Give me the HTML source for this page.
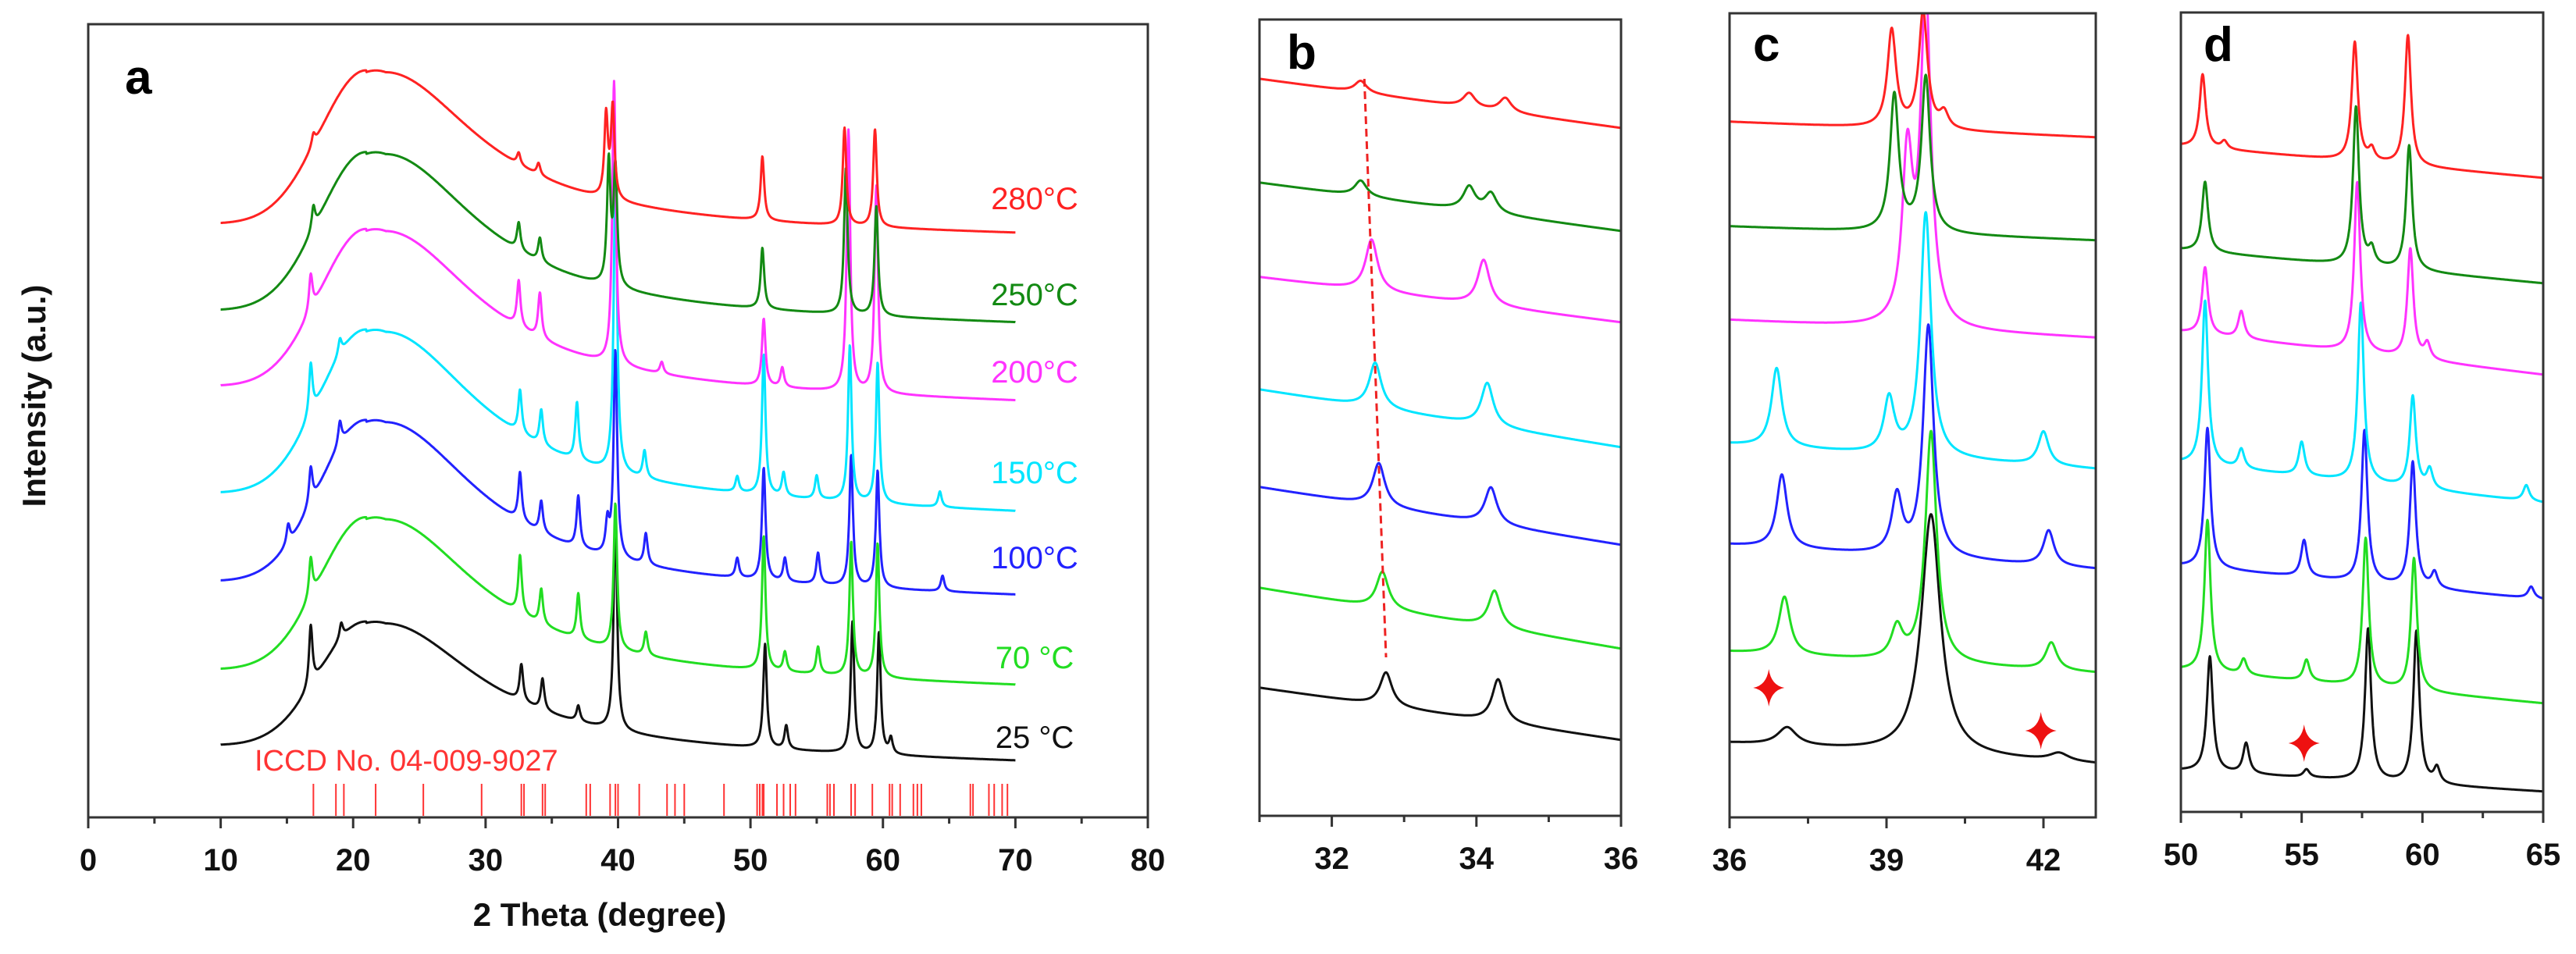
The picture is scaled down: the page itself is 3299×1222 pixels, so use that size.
<!DOCTYPE html>
<html><head><meta charset="utf-8"><style>
html,body{margin:0;padding:0;background:#fff;}
svg{display:block;font-family:"Liberation Sans",sans-serif;}
</style></head><body>
<svg id="fig" width="3299" height="1222" viewBox="0 0 3299 1222" xmlns="http://www.w3.org/2000/svg">
<defs>
<clipPath id="clipA"><rect x="113" y="31" width="1357" height="1016"/></clipPath>
<clipPath id="clipB"><rect x="1613" y="25" width="463" height="1020"/></clipPath>
<clipPath id="clipC"><rect x="2215" y="17" width="469" height="1030"/></clipPath>
<clipPath id="clipD"><rect x="2793" y="16" width="464" height="1024"/></clipPath>
</defs>
<g id="layer"></g>
</svg>
<script>
// series order: 25C, 70C, 100C, 150C, 200C, 250C, 280C
const seriesLabels = ["25 °C","70 °C","100°C","150°C","200°C","250°C","280°C"];
const seriesColors = ["#111111","#22dd22","#2222ff","#00e5ff","#ff33ff","#138a13","#ff2222"];
// panel a (10-70 deg) offsets and hump
const aBaseStart = [955,858,745,632,495,398,287];
const aBaseEnd = [979,883,768,661,519,419,304];
const aHump = [163,200,211,215,206,207,200];
const aPeaks = [
 [[16.8,78],[19.1,20],[32.7,47],[34.3,40],[37,20],[39.8,273],[51.1,133],[52.7,30],[57.7,168],[59.7,156],[60.6,20]],
 [[16.8,50],[32.6,74],[34.2,45],[37,58],[39.8,187],[42.1,30],[51,172],[52.6,25],[55.1,35],[57.6,172],[59.6,172]],
 [[15.1,25],[16.8,47],[19,30],[32.6,62],[34.2,40],[37,66],[39.2,40],[39.8,265],[42.1,40],[49,25],[51,144],[52.6,30],[55.1,40],[57.6,168],[59.6,150],[64.5,20]],
 [[16.8,66],[19,20],[32.6,55],[34.2,45],[36.9,74],[39.8,374],[42,35],[49,20],[51,180],[52.5,30],[55,30],[57.5,200],[59.6,180],[64.3,20]],
 [[16.8,47],[32.5,59],[34.1,58],[39.7,363],[43.3,15],[51,86],[52.4,25],[57.4,335],[59.5,265]],
 [[17,30],[32.5,35],[34.1,30],[39.3,156],[39.8,150],[50.9,78],[57.2,187],[59.5,140]],
 [[17,15],[32.5,15],[34,15],[39.1,105],[39.6,117],[50.9,82],[57.1,125],[59.4,125]]
];
const iccdLines = [17,18.7,19.3,21.7,25.3,29.7,32.7,32.9,34.3,34.5,37.6,37.9,39.4,39.8,40.0,41.6,43.7,44.3,45,48,50.5,50.7,50.9,51,52,52.5,53,53.4,55.8,56,56.3,57.6,57.9,59.2,60.5,60.7,61.3,62.3,62.6,62.9,66.6,66.8,68,68.4,69,69.4];
// panel b (31-36)
const bBaseStart = [881,753,624,499,355,234,101];
const bBaseEnd = [948,831,698,573,413,296,164];
const bPeaks = [
 [[32.75,43],[34.3,55]],
 [[32.7,47],[34.25,47]],
 [[32.65,55],[34.2,47]],
 [[32.6,58],[34.15,55]],
 [[32.55,66],[34.1,58]],
 [[32.4,20],[33.9,30],[34.2,25]],
 [[32.4,15],[33.9,18],[34.4,18]]
];
// panel c (36-43)
const cBaseStart = [952,835,698,569,410,290,156];
const cBaseEnd = [979,862,729,601,433,308,176];
const cPeaks = [
 [[37.1,23],[39.85,308],[42.3,10]],
 [[37.05,74],[39.2,40],[39.85,296],[42.15,35]],
 [[37,94],[39.2,74],[39.8,296],[42.1,45]],
 [[36.9,101],[39.05,70],[39.75,312],[42,43]],
 [[39.4,211],[39.75,420]],
 [[39.15,175],[39.75,199]],
 [[39.1,125],[39.7,150],[40.1,20]]
];
const cWidth = [0.22,0.13,0.12,0.12,0.12,0.1,0.1];
// panel d (50-65)
const dBaseStart = [987,858,725,593,425,320,187];
const dBaseEnd = [1014,901,768,644,480,363,228];
const dPeaks = [
 [[51.2,148],[52.7,39],[55.2,10],[57.75,195],[59.75,195],[60.6,20]],
 [[51.1,195],[52.6,20],[55.2,27],[57.65,190],[59.65,170]],
 [[51.1,180],[55.1,47],[57.6,195],[59.6,160],[60.5,20],[64.5,15]],
 [[51,211],[52.5,25],[55,43],[57.45,230],[59.6,117],[60.3,25],[64.3,20]],
 [[51,86],[52.5,35],[57.3,218],[59.5,140],[60.2,20]],
 [[51,90],[57.25,203],[57.9,20],[59.45,160]],
 [[50.9,94],[51.8,10],[57.2,152],[57.9,15],[59.4,167]]
];
const NS="http://www.w3.org/2000/svg";
const layer=document.getElementById('layer');
function el(tag,attrs,parent){const e=document.createElementNS(NS,tag);for(const k in attrs)e.setAttribute(k,attrs[k]);(parent||layer).appendChild(e);return e;}
function lor(x,p,h,w){const t=(x-p)/w;return h/(1+t*t);}
function makeScale(d0,d1,p0,p1){return v=>p0+(v-d0)*(p1-p0)/(d1-d0);}
function humpShape(x){
 if(x<21){const h=x-21;return Math.exp(-h*h/(2*3.5*3.5));}
 if(x<22.5){const h=x-21.75;return 1-0.02*(h*h);}
 const h=(x-22.5)/8.5;return 0.99/(1+h*h);
}
const panels=[
 {id:'a',x0:113,x1:1470,d0:0,d1:80,top:31,bot:1047,r0:10,r1:70,step:0.03,clip:'clipA',maj:10,min:5,labs:[0,10,20,30,40,50,60,70,80]},
 {id:'b',x0:1613,x1:2076,d0:31,d1:36,top:25,bot:1045,r0:31,r1:36,step:0.005,clip:'clipB',maj:2,min:1,labs:[32,34,36]},
 {id:'c',x0:2215,x1:2684,d0:36,d1:43,top:17,bot:1047,r0:36,r1:43,step:0.006,clip:'clipC',maj:3,min:1.5,labs:[36,39,42]},
 {id:'d',x0:2793,x1:3257,d0:50,d1:65,top:16,bot:1040,r0:50,r1:65,step:0.015,clip:'clipD',maj:5,min:2.5,labs:[50,55,60,65]}
];
const panelData={
 a:{bs:aBaseStart,be:aBaseEnd,pk:aPeaks,w:()=>0.16,hump:aHump},
 b:{bs:bBaseStart,be:bBaseEnd,pk:bPeaks,w:()=>0.1},
 c:{bs:cBaseStart,be:cBaseEnd,pk:cPeaks,w:i=>cWidth[i]},
 d:{bs:dBaseStart,be:dBaseEnd,pk:dPeaks,w:()=>0.15}
};
panels.forEach(P=>{
 const g=el('g',{});
 
 
 const sx=makeScale(P.d0,P.d1,P.x0,P.x1);
 const D=panelData[P.id];
 const cg=el('g',{'clip-path':'url(#'+P.clip+')'},g);
 for(let i=0;i<7;i++){
  let d='';
  for(let x=P.r0;x<=P.r1+1e-9;x+=P.step){
   const f=(x-P.r0)/(P.r1-P.r0);
   let y=D.bs[i]+(D.be[i]-D.bs[i])*f;
   if(D.hump){ y-=D.hump[i]*humpShape(x); }
   D.pk[i].forEach(p=>{y-=lor(x,p[0],p[1],D.w(i));});
   d+=(d?'L':'M')+sx(x).toFixed(1)+','+y.toFixed(1);
  }
  const path=el('path',{d:d,fill:'none',stroke:seriesColors[i],'stroke-width':3,'stroke-linejoin':'round'},cg);
  
  
 }
 const fr=el('rect',{x:P.x0,y:P.top,width:P.x1-P.x0,height:P.bot-P.top,fill:'none',stroke:'#333',"stroke-width":3},g);
 
 
 for(let v=P.d0;v<=P.d1+1e-9;v+=P.min){
  const isMaj=P.labs.some(l=>Math.abs(l-v)<1e-6);
  el('line',{x1:sx(v),x2:sx(v),y1:P.bot,y2:P.bot+(isMaj?14:8),stroke:'#333','stroke-width':3},g);
 }
 P.labs.forEach(v=>{
  const t=el('text',{x:sx(v),y:P.bot+68,'text-anchor':'middle','font-size':40,'font-weight':'bold',fill:'#111'},g);
  t.textContent=v;
  
  
 });
 const pl=el('text',{x:P.id==='a'?160:(P.id==='b'?1648:(P.id==='c'?2245:2822)),y:P.id==='a'?120:(P.id==='b'?88:78),'font-size':62,'font-weight':'bold',fill:'#000'},g);
 pl.textContent=P.id;
 
 
});
const labelY=[944,842,714,605,476,377,254];
for(let i=0;i<7;i++){
 const t=el('text',{x:1325,y:labelY[i]+14,'text-anchor':'middle','font-size':40,fill:seriesColors[i]});
 t.textContent=seriesLabels[i];
 
 
}
const sxa=makeScale(0,80,113,1470);
const ig=el('g',{});


iccdLines.forEach(v=>{el('line',{x1:sxa(v),x2:sxa(v),y1:1004,y2:1045,stroke:'#ff3333','stroke-width':2},ig);});
const it=el('text',{x:326,y:987,'font-size':38,fill:'#ff3333'});
it.textContent='ICCD No. 04-009-9027';


const yt=el('text',{x:0,y:0,'font-size':42,'font-weight':'bold','text-anchor':'middle',fill:'#111',transform:'translate(58,507) rotate(-90)'});
yt.textContent='Intensity (a.u.)';


const xt=el('text',{x:768,y:1186,'font-size':42,'font-weight':'bold','text-anchor':'middle',fill:'#111'});
xt.textContent='2 Theta (degree)';


const sxb=makeScale(31,36,1613,2076);
const dl=el('line',{x1:sxb(32.45),y1:101,x2:sxb(32.75),y2:842,stroke:'#ee2222','stroke-width':3,'stroke-dasharray':'10,6'});


const sxc=makeScale(36,43,2215,2684), sxd=makeScale(50,65,2793,3257);
function star(cx,cy){
 const s=el('path',{d:`M${cx},${cy-24} Q${cx+3},${cy-3} ${cx+20},${cy} Q${cx+3},${cy+3} ${cx},${cy+24} Q${cx-3},${cy+3} ${cx-20},${cy} Q${cx-3},${cy-3} ${cx},${cy-24}Z`,fill:'#ee1111'});
 
 
}
star(sxc(36.75),881);star(sxc(41.95),936);star(sxd(55.1),952);
</script>
</body></html>
